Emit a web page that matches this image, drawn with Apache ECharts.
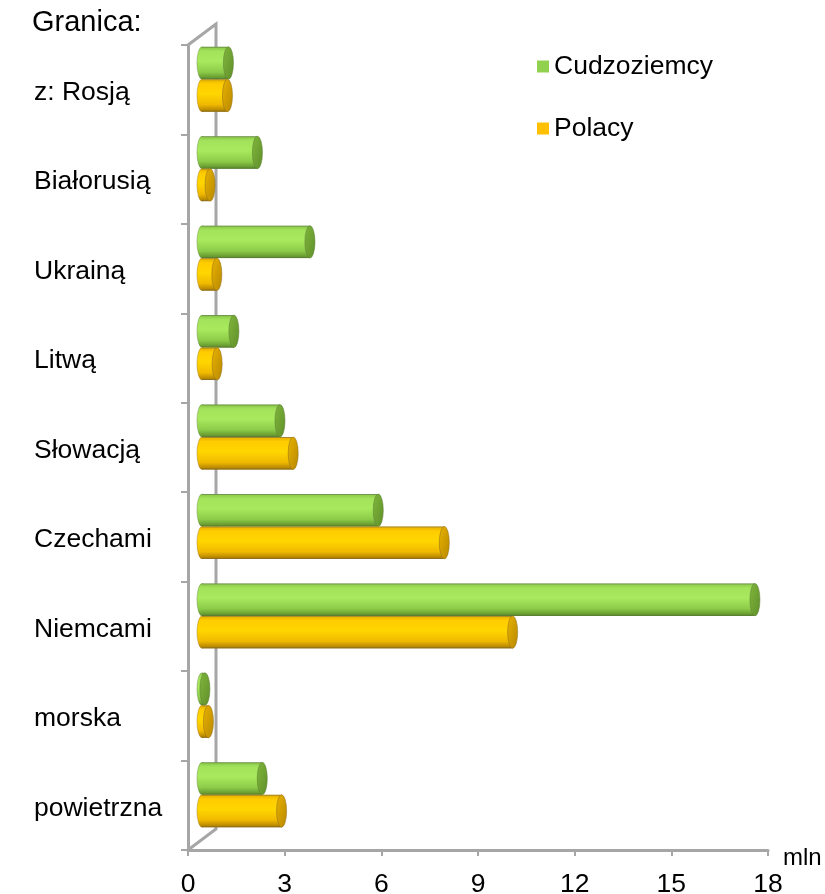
<!DOCTYPE html>
<html>
<head>
<meta charset="utf-8">
<script src="https://cdn.jsdelivr.net/npm/echarts@6/dist/echarts.min.js"></script>
<style>
  html, body { margin: 0; padding: 0; background: #fff; }
  #chart { width: 825px; height: 894px; }
</style>
</head>
<body>
<div id="chart"></div>
<script>
// border crossings, mln people
const categories = ["z: Rosją", "Białorusią", "Ukrainą", "Litwą", "Słowacją", "Czechami", "Niemcami", "morska", "powietrzna"];
const foreigners = [0.82, 1.72, 3.35, 0.99, 2.42, 5.47, 17.16, 0.09, 1.87];
const poles = [0.79, 0.25, 0.46, 0.47, 2.83, 7.52, 9.64, 0.2, 2.47];
const xTicks = [0, 3, 6, 9, 12, 15, 18];

const FONT = "'Liberation Sans', Arial, sans-serif";
const W = 825, H = 894;
// front plane of the 3d box, its depth, and where the cylinders sit (mid depth)
const front = { left: 188, right: 768, top: 45, bottom: 850 };
const depth = { dx: 28, dy: -21 };
const barShift = { dx: 14, dy: -10.5 };

const chart = echarts.init(document.getElementById("chart"));

const palettes = [
  { stops: ["#86c443", "#a3e35b", "#a8e95e", "#8ccb48", "#5c8c2a"], cap: ["#80b63c", "#5f8f2a"], edge: "#5d7f35" },
  { stops: ["#e2ad00", "#ffcc00", "#ffd600", "#f0b900", "#a87a00"], cap: ["#e8b200", "#b88800"], edge: "#8f7020" }
];

function grad(stops) {
  return new echarts.graphic.LinearGradient(0, 0, 0, 1, [
    { offset: 0, color: stops[0] },
    { offset: 0.14, color: stops[1] },
    { offset: 0.45, color: stops[2] },
    { offset: 0.78, color: stops[3] },
    { offset: 1, color: stops[4] }
  ]);
}

function cylinder(which) {
  return function (params, api) {
    const pal = palettes[which];
    const start = api.coord([0, api.value(1)]);
    const end = api.coord([api.value(0), api.value(1)]);
    const band = api.size([0, 1])[1];
    const h = band * 0.363;
    const r = h / 2;
    const sx = 0.31;
    const y0 = which === 0 ? start[1] - h : start[1];
    const cy = y0 + r;
    const x0 = start[0], x1 = end[0];
    return {
      type: "group",
      children: [
        { type: "circle", x: x0, y: cy, scaleX: sx, shape: { cx: 0, cy: 0, r: r },
          style: { fill: grad(pal.stops), stroke: pal.edge, lineWidth: 0.6, strokeNoScale: true } },
        { type: "rect", shape: { x: x0, y: y0, width: Math.max(x1 - x0, 0), height: h },
          style: { fill: grad(pal.stops) } },
        { type: "line", shape: { x1: x0, y1: y0 + 0.5, x2: x1, y2: y0 + 0.5 },
          style: { stroke: "rgba(90,90,90,0.45)", lineWidth: 1 } },
        { type: "line", shape: { x1: x0, y1: y0 + h - 0.5, x2: x1, y2: y0 + h - 0.5 },
          style: { stroke: pal.edge, lineWidth: 1 } },
        { type: "circle", x: x1, y: cy, scaleX: sx, shape: { cx: 0, cy: 0, r: r },
          style: {
            fill: new echarts.graphic.LinearGradient(0, 0, 1, 1, [
              { offset: 0, color: pal.cap[0] }, { offset: 1, color: pal.cap[1] }
            ]),
            stroke: pal.edge, lineWidth: 0.8, strokeNoScale: true
          } }
      ]
    };
  };
}

const wallColor = "#a6a6a6";
const labelSize = 26.5;

chart.setOption({
  backgroundColor: "#fff",
  animation: false,
  textStyle: { fontFamily: FONT },
  title: {
    text: "Granica:", left: 27, top: 3,
    textStyle: { fontFamily: FONT, fontSize: 29, fontWeight: "normal", color: "#000" }
  },
  legend: {
    orient: "vertical", left: 532, top: 48, itemGap: 35,
    itemWidth: 12, itemHeight: 12, icon: "rect", itemStyle: { borderWidth: 0 },
    textStyle: { fontFamily: FONT, fontSize: labelSize, color: "#000" },
    data: ["Cudzoziemcy", "Polacy"]
  },
  grid: [
    { left: front.left, right: W - front.right, top: front.top, bottom: H - front.bottom,
      outerBoundsMode: "none" },
    { left: front.left + barShift.dx, right: W - front.right - barShift.dx,
      top: front.top + barShift.dy, bottom: H - front.bottom - barShift.dy,
      outerBoundsMode: "none" }
  ],
  xAxis: [
    {
      gridIndex: 0, type: "value", min: xTicks[0], max: xTicks[xTicks.length - 1], interval: 3,
      name: "mln", nameLocation: "end", nameGap: 15,
      nameTextStyle: { fontFamily: FONT, fontSize: 24, color: "#000", verticalAlign: "top", padding: [-4, 0, 0, 0] },
      axisLine: { show: true, lineStyle: { color: wallColor, width: 3 } },
      axisTick: { show: true, length: 6, lineStyle: { color: wallColor, width: 2 } },
      axisLabel: { fontFamily: FONT, fontSize: labelSize, color: "#000", margin: 21 },
      splitLine: { show: false }
    },
    {
      gridIndex: 1, type: "value", min: xTicks[0], max: xTicks[xTicks.length - 1],
      show: false, splitLine: { show: false }
    }
  ],
  yAxis: [
    {
      gridIndex: 0, type: "category", data: categories, inverse: true,
      axisLine: { show: true, lineStyle: { color: wallColor, width: 3 } },
      axisTick: { show: true, length: 7, lineStyle: { color: wallColor, width: 2 } },
      axisLabel: {
        align: "left", margin: 154,
        formatter: (v) => "{c|" + v + "}",
        rich: { c: { fontFamily: FONT, fontSize: labelSize, color: "#000", padding: [6, 0, 0, 0] } }
      }
    },
    {
      gridIndex: 1, type: "category", data: categories, inverse: true, show: false
    }
  ],
  graphic: [
    {
      type: "polyline", silent: true, z: 1,
      shape: { points: [
        [front.left, front.top],
        [front.left + depth.dx, front.top + depth.dy],
        [front.left + depth.dx, front.bottom + depth.dy],
        [front.left, front.bottom]
      ] },
      style: { stroke: wallColor, lineWidth: 3, fill: null }
    }
  ],
  series: [
    {
      name: "Cudzoziemcy", type: "custom", xAxisIndex: 1, yAxisIndex: 1,
      itemStyle: { color: "#92d050" }, z: 3,
      encode: { x: 0, y: 1 },
      data: foreigners.map((v, i) => [v, i]),
      renderItem: cylinder(0)
    },
    {
      name: "Polacy", type: "custom", xAxisIndex: 1, yAxisIndex: 1,
      itemStyle: { color: "#ffc000" }, z: 3,
      encode: { x: 0, y: 1 },
      data: poles.map((v, i) => [v, i]),
      renderItem: cylinder(1)
    }
  ]
});

window.addEventListener("resize", () => chart.resize());
</script>
</body>
</html>
